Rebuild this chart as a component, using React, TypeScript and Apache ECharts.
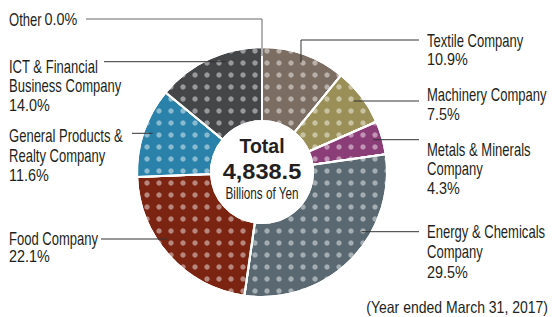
import React, { useEffect, useRef } from "react";
import * as echarts from "echarts";

const categories = [
  "Other",
  "Textile Company",
  "Machinery Company",
  "Metals & Minerals Company",
  "Energy & Chemicals Company",
  "Food Company",
  "General Products & Realty Company",
  "ICT & Financial Business Company",
];
const labelNames = [
  ["Other"],
  ["Textile Company"],
  ["Machinery Company"],
  ["Metals & Minerals", "Company"],
  ["Energy & Chemicals", "Company"],
  ["Food Company"],
  ["General Products &", "Realty Company"],
  ["ICT & Financial", "Business Company"],
];
const shares = [0.0, 10.9, 7.5, 4.3, 29.5, 22.1, 11.6, 14.0];
const colors = ["#888888", "#7b6d61", "#9a9057", "#8b3d77", "#5a6971", "#7b2412", "#2a81a9", "#454648"];
const totalValue = 4838.5;
const totalTitle = "Total";
const unitText = "Billions of Yen";
const footnote = "(Year ended March 31, 2017)";

// label layout (positions only): tx text left, y1 first line centre, gap line spacing,
// lineY connector height, lineX connector start for left labels, px inline percent x
const layout = [
  { side: "left", tx: 9, y1: 19.7, gap: 0, lineY: 19, lineX: 86, px: 44.5 },
  { side: "right", tx: 427, y1: 41, gap: 18, lineY: 40 },
  { side: "right", tx: 427, y1: 94.7, gap: 19.8, lineY: 101 },
  { side: "right", tx: 427, y1: 150, gap: 19, lineY: 139.7 },
  { side: "right", tx: 427, y1: 232, gap: 20, lineY: 231.7 },
  { side: "left", tx: 9, y1: 238.7, gap: 17.5, lineY: 239, lineX: 101 },
  { side: "left", tx: 9, y1: 136, gap: 19.7, lineY: 133.3, lineX: 132 },
  { side: "left", tx: 9, y1: 66.3, gap: 19.3, lineY: 61.7, lineX: 104 },
];

const CX = 262, CY = 172, R_IN = 51, R_OUT = 125, R_ANCHOR = 116, RIGHT_LINE_X = 419;
const FONT = "'Liberation Sans', Arial, sans-serif";
const TEXT = "#231f20";

function txt(x: number, y: number, text: string, font: string, sx: number, align = "left") {
  return {
    type: "text",
    x,
    y,
    scaleX: sx,
    z: 20,
    style: { text, font, fill: TEXT, textAlign: align, textVerticalAlign: "middle" },
  };
}

export default function App() {
  const ref = useRef<HTMLDivElement>(null);
  useEffect(() => {
    if (!ref.current) return;
    const chart = echarts.init(ref.current, null, { renderer: "svg" });
    const sum = shares.reduce((a, b) => a + b, 0);
    let cum = 0;
    const graphics: any[] = [];
    shares.forEach((v, i) => {
      const a0 = 90 - (cum / sum) * 360;
      const span = (v / sum) * 360;
      const a1 = a0 - span;
      cum += v;
      const mid = (a0 + a1) / 2;
      const L: any = layout[i];
      const dy = L.lineY - CY;
      let pts: number[][] = [];
      const startX = L.side === "right" ? RIGHT_LINE_X : L.lineX;
      let done = false;
      if (Math.abs(dy) < R_ANCHOR && span > 0) {
        const dx = Math.sqrt(R_ANCHOR * R_ANCHOR - dy * dy) * (L.side === "right" ? 1 : -1);
        const ang = (Math.atan2(-dy, dx) * 180) / Math.PI;
        let t = (a0 - ang) % 360;
        if (t < 0) t += 360;
        if (t <= span) {
          pts = [[startX, L.lineY], [CX + dx, L.lineY]];
          done = true;
        }
      }
      if (!done) {
        const ax = CX + R_ANCHOR * Math.cos((mid * Math.PI) / 180);
        const ay = CY - R_ANCHOR * Math.sin((mid * Math.PI) / 180);
        pts = [[startX, L.lineY], [ax, L.lineY], [ax, ay]];
      }
      graphics.push({
        type: "polyline",
        z: 10,
        shape: { points: pts },
        style: { stroke: i === 0 ? "#666" : "#333", lineWidth: 1, fill: null },
      });
      const pct = v.toFixed(1) + "%";
      const names = labelNames[i];
      names.forEach((s, k) => {
        graphics.push(txt(L.tx, L.y1 + k * L.gap, s, `17.5px ${FONT}`, 0.745));
      });
      if (L.px) {
        graphics.push(txt(L.px, L.y1, pct, `16px ${FONT}`, 0.9));
      } else {
        graphics.push(txt(L.tx, L.y1 + names.length * L.gap, pct, `16px ${FONT}`, 0.9));
      }
    });
    graphics.push(
      txt(CX, 146, totalTitle, `bold 19.5px ${FONT}`, 1.0, "center"),
      txt(CX, 170.8, totalValue.toLocaleString("en-US", { minimumFractionDigits: 1 }), `bold 22px ${FONT}`, 1.07, "center"),
      txt(CX, 193, unitText, `16.3px ${FONT}`, 0.72, "center"),
      txt(548, 307.5, footnote, `16.3px ${FONT}`, 0.86, "right")
    );

    chart.setOption({
      animation: false,
      backgroundColor: "#ffffff",
      series: [
        {
          type: "pie",
          center: [CX, CY],
          radius: [R_IN, R_OUT],
          startAngle: 90,
          clockwise: true,
          label: { show: false },
          labelLine: { show: false },
          emphasis: { disabled: true },
          itemStyle: {
            borderColor: "#ffffff",
            borderWidth: 2,
            decal: {
              symbol: "circle",
              symbolSize: 0.9,
              color: "rgba(255,255,255,0.45)",
              dashArrayX: 5.5,
              dashArrayY: 5.5,
            },
          },
          data: categories.map((c, i) => ({
            name: c,
            value: shares[i],
            itemStyle: { color: colors[i] },
          })),
        },
      ],
      graphic: graphics,
    });
    return () => chart.dispose();
  }, []);
  return <div ref={ref} style={{ position: "fixed", left: 0, top: 0, width: 552, height: 317 }} />;
}
